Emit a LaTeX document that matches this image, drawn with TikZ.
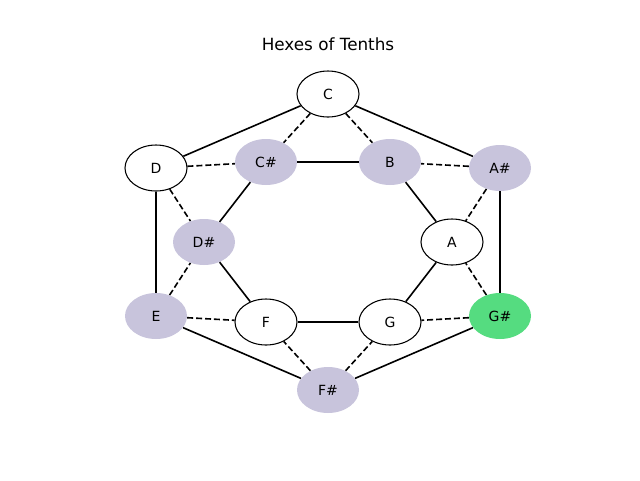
\documentclass[tikz,border=0pt]{standalone}
\usepackage{fontspec}
\setmainfont{DejaVu Sans}
\usetikzlibrary{shapes.geometric}
\definecolor{lav}{HTML}{C8C4DC}
\definecolor{grn}{HTML}{55DC80}
\begin{document}
\begin{tikzpicture}[x=0.75pt,y=-0.75pt,
  nd/.style={ellipse,minimum width=46.5pt,minimum height=34.5pt,inner sep=0pt,font=\fontsize{10.5}{12}\selectfont},
  wn/.style={nd,draw=black,line width=0.8pt,fill=white},
  pn/.style={nd,fill=lav},
  gn/.style={nd,fill=grn},
  sl/.style={line width=1.2pt},
  dl/.style={line width=1.2pt,dash pattern=on 4.5pt off 2.2pt}]
\useasboundingbox (0,0) rectangle (640,480);
\node[font=\fontsize{12.6}{14}\selectfont] (title) at (328,44) {Hexes of Tenths};
\node[wn] (C) at (328,94) {C};
\node[wn] (D) at (156,168) {D};
\node[pn] (Cs) at (266,162) {C\#};
\node[pn] (B) at (390,162) {B};
\node[pn] (As) at (500,168) {A\#};
\node[pn] (Ds) at (204,242) {D\#};
\node[wn] (A) at (452,242) {A};
\node[pn] (E) at (156,316) {E};
\node[wn] (F) at (266,322) {F};
\node[wn] (G) at (390,322) {G};
\node[gn] (Gs) at (500,316) {G\#};
\node[pn] (Fs) at (328,390) {F\#};
% outer hexagon
\draw[sl] (C) -- (D);
\draw[sl] (C) -- (As);
\draw[sl] (D) -- (E);
\draw[sl] (As) -- (Gs);
\draw[sl] (E) -- (Fs);
\draw[sl] (Gs) -- (Fs);
% inner hexagon
\draw[sl] (Cs) -- (B);
\draw[sl] (B) -- (A);
\draw[sl] (A) -- (G);
\draw[sl] (G) -- (F);
\draw[sl] (F) -- (Ds);
\draw[sl] (Ds) -- (Cs);
% dashed
\draw[dl] (C) -- (Cs);
\draw[dl] (C) -- (B);
\draw[dl] (D) -- (Cs);
\draw[dl] (D) -- (Ds);
\draw[dl] (As) -- (B);
\draw[dl] (As) -- (A);
\draw[dl] (E) -- (Ds);
\draw[dl] (E) -- (F);
\draw[dl] (Gs) -- (A);
\draw[dl] (Gs) -- (G);
\draw[dl] (Fs) -- (F);
\draw[dl] (Fs) -- (G);
\end{tikzpicture}
\end{document}
